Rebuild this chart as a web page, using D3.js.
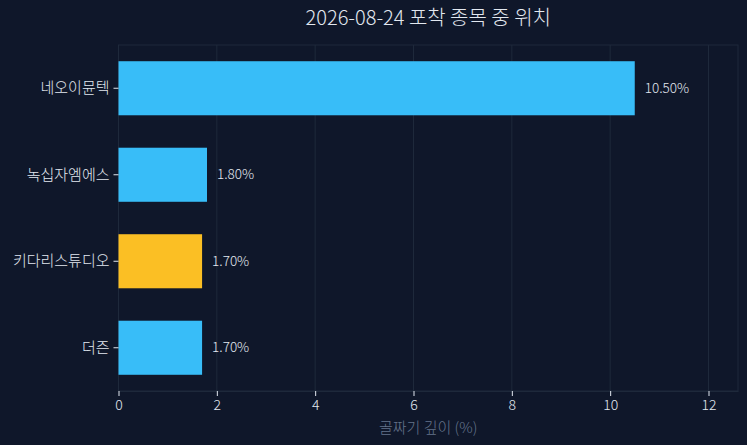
<!DOCTYPE html>
<html>
<head>
<meta charset="utf-8">
<script src="https://cdn.jsdelivr.net/npm/d3@7"></script>
<style>
  html, body { margin: 0; padding: 0; background: #0f172a; }
  svg { display: block; font-family: "Noto Sans CJK KR", "Noto Sans", sans-serif; font-weight: 300; }
</style>
</head>
<body>
<div id="chart"></div>
<script>
// chart data
const names = ["네오이뮨텍", "녹십자엠에스", "키다리스튜디오", "더즌"];
const depths = [10.5, 1.8, 1.7, 1.7];
const highlight = [false, false, true, false];
const xTicks = [0, 2, 4, 6, 8, 10, 12];

const W = 747, H = 445;
const margin = { top: 45, right: 9, bottom: 54, left: 118.5 },
      width = W - margin.left - margin.right,
      height = H - margin.top - margin.bottom;

const svg = d3.select("#chart").append("svg")
    .attr("width", W)
    .attr("height", H);

svg.append("rect").attr("width", W).attr("height", H).attr("fill", "#0f172a");

svg.append("text")
    .attr("x", margin.left + width / 2)
    .attr("y", 25)
    .attr("text-anchor", "middle")
    .attr("fill", "#e2e8f0")
    .style("font-size", "20px")
    .text("2026-08-24 포착 종목 중 위치");

const g = svg.append("g")
    .attr("transform", "translate(" + margin.left + "," + margin.top + ")");

const x = d3.scaleLinear()
    .domain([0, 12.6])
    .range([0, width]);

const y = d3.scaleBand()
    .domain(names)
    .range([0, height])
    .paddingInner(0.375)
    .paddingOuter(0.1875);

// grid
g.selectAll(".grid")
    .data(xTicks)
  .enter().append("line")
    .attr("class", "grid")
    .attr("x1", d => x(d)).attr("x2", d => x(d))
    .attr("y1", 0).attr("y2", height)
    .attr("stroke", "#1e293b")
    .attr("stroke-width", 1);

// frame
g.append("rect")
    .attr("x", 0).attr("y", 0)
    .attr("width", width).attr("height", height)
    .attr("fill", "none")
    .attr("stroke", "#1e293b");

// bars
g.selectAll(".bar")
    .data(names)
  .enter().append("rect")
    .attr("class", "bar")
    .attr("x", x(0))
    .attr("y", d => y(d))
    .attr("width", (d, i) => x(depths[i]) - x(0))
    .attr("height", y.bandwidth())
    .attr("fill", (d, i) => highlight[i] ? "#fbbf24" : "#38bdf8");

// value labels
g.selectAll(".val")
    .data(names)
  .enter().append("text")
    .attr("class", "val")
    .attr("x", (d, i) => x(depths[i]) + 10)
    .attr("y", d => y(d) + y.bandwidth() / 2)
    .attr("dy", "0.35em")
    .attr("fill", "#e2e8f0")
    .style("font-size", "13.5px")
    .text((d, i) => depths[i].toFixed(2) + "%");

// x axis
const xAxis = g.append("g")
    .attr("transform", "translate(0," + height + ")")
    .call(d3.axisBottom(x).tickValues(xTicks).tickSize(5).tickSizeOuter(0).tickPadding(4));
xAxis.select(".domain").attr("stroke", "#1e293b");
xAxis.selectAll(".tick line").attr("stroke", "#e2e8f0");
xAxis.selectAll(".tick text")
    .attr("fill", "#e2e8f0")
    .style("font-size", "14px")
    .style("font-family", "'Noto Sans CJK KR', sans-serif");

// y axis
const yAxis = g.append("g")
    .call(d3.axisLeft(y).tickSize(5).tickSizeOuter(0).tickPadding(4));
yAxis.select(".domain").remove();
yAxis.selectAll(".tick line").attr("stroke", "#e2e8f0");
yAxis.selectAll(".tick text")
    .attr("fill", "#e2e8f0")
    .style("font-size", "15px")
    .style("font-family", "'Noto Sans CJK KR', sans-serif");

// axis title
svg.append("text")
    .attr("x", margin.left + width / 2)
    .attr("y", 433)
    .attr("text-anchor", "middle")
    .attr("fill", "#64748b")
    .style("font-size", "15px")
    .text("골짜기 깊이 (%)");
</script>
</body>
</html>
